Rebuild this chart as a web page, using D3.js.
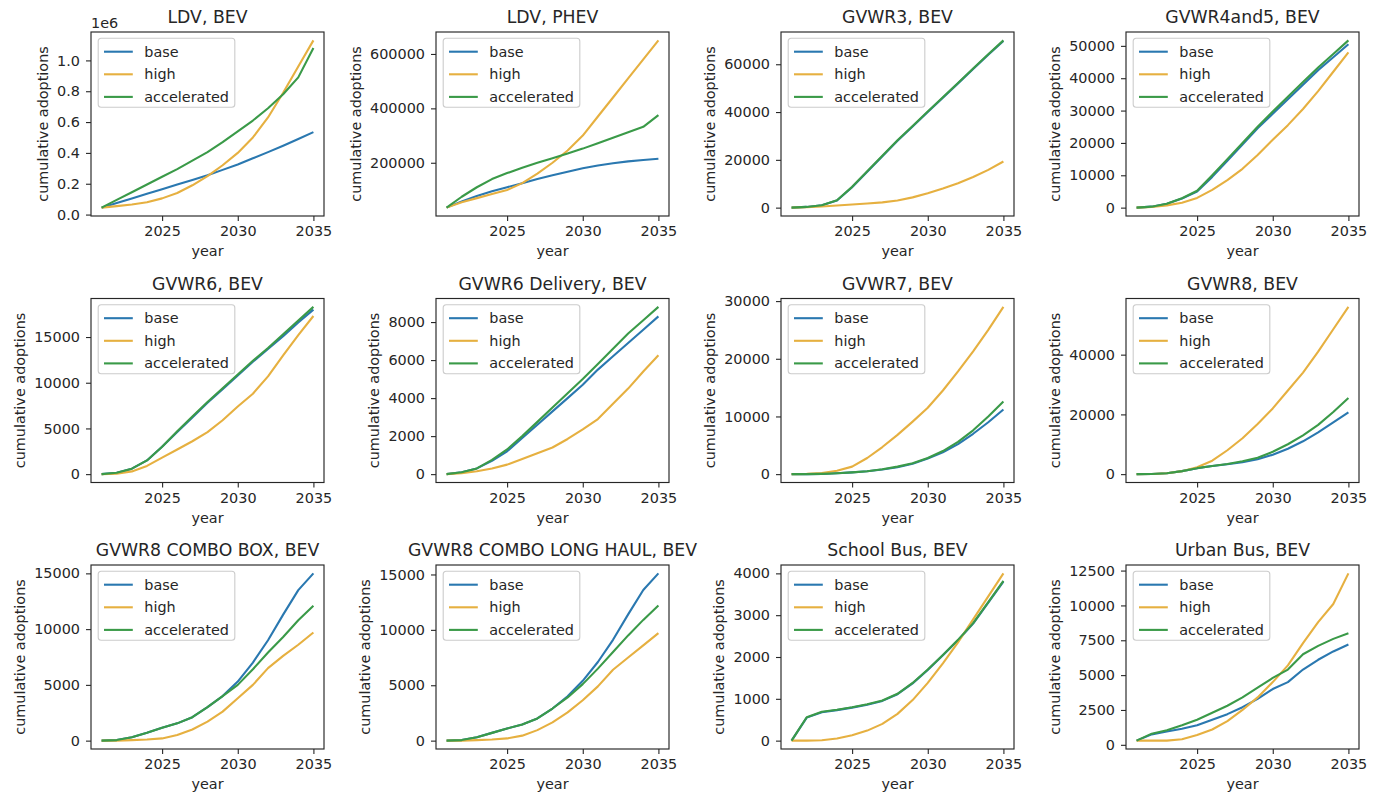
<!DOCTYPE html>
<html>
<head>
<meta charset="utf-8">
<script src="https://cdn.jsdelivr.net/npm/d3@7"></script>
<style>
  html, body { margin: 0; padding: 0; background: #fff; }
  svg { display: block; font-family: "DejaVu Sans", sans-serif; }
</style>
</head>
<body>
<svg id="chart" width="1382" height="798"></svg>
<script>
// Cumulative adoptions per vehicle class and scenario, 2021–2035
const years = d3.range(2021, 2036);
const seriesNames = ["base", "high", "accelerated"];
const xTickValues = [2025, 2030, 2035];

const panelTitles = [
  "LDV, BEV", "LDV, PHEV", "GVWR3, BEV", "GVWR4and5, BEV",
  "GVWR6, BEV", "GVWR6 Delivery, BEV", "GVWR7, BEV", "GVWR8, BEV",
  "GVWR8 COMBO BOX, BEV", "GVWR8 COMBO LONG HAUL, BEV", "School Bus, BEV", "Urban Bus, BEV"
];

// y tick spacing of each panel
const yTickSteps = [200000, 200000, 20000, 10000, 5000, 2000, 10000, 20000, 5000, 5000, 1000, 2500];

const baseValues = [
  [45000, 75000, 105000, 135000, 165000, 195000, 225000, 255000, 290000, 325000, 365000, 405000, 447000, 490000, 535000],
  [35000, 58000, 78000, 95000, 110000, 125000, 140000, 154000, 167000, 180000, 190000, 198000, 205000, 210000, 215000],
  [0, 300, 1000, 3000, 8500, 15000, 21500, 28000, 34000, 40000, 46000, 52000, 58000, 64000, 69700],
  [0, 300, 1200, 2800, 5000, 9500, 14500, 19500, 24500, 29000, 33500, 38000, 42500, 46500, 50500],
  [0, 150, 600, 1500, 3000, 4600, 6200, 7800, 9300, 10800, 12300, 13700, 15100, 16600, 18000],
  [0, 100, 300, 700, 1200, 1900, 2600, 3300, 4000, 4700, 5500, 6200, 6900, 7600, 8300],
  [0, 0, 50, 150, 300, 500, 800, 1200, 1800, 2700, 3800, 5200, 7000, 9000, 11200],
  [0, 50, 300, 1000, 2000, 2700, 3300, 4000, 5000, 6500, 8500, 11000, 14000, 17300, 20700],
  [0, 50, 300, 700, 1150, 1550, 2100, 3000, 4000, 5300, 7000, 9000, 11300, 13500, 15000],
  [0, 50, 300, 700, 1100, 1450, 2000, 2900, 4000, 5400, 7100, 9100, 11400, 13600, 15100],
  [0, 550, 680, 730, 790, 860, 950, 1110, 1370, 1690, 2040, 2400, 2800, 3300, 3800],
  [300, 750, 950, 1150, 1400, 1800, 2200, 2700, 3300, 4000, 4500, 5400, 6100, 6700, 7200]
];

const highValues = [
  [45000, 55000, 65000, 80000, 105000, 140000, 190000, 250000, 320000, 400000, 500000, 630000, 790000, 960000, 1130000],
  [35000, 55000, 70000, 85000, 100000, 125000, 160000, 200000, 245000, 300000, 370000, 440000, 510000, 580000, 650000],
  [0, 200, 500, 900, 1300, 1700, 2200, 3000, 4300, 6000, 8000, 10200, 12800, 15800, 19300],
  [0, 200, 700, 1500, 3000, 5500, 8500, 12000, 16300, 21000, 25500, 30500, 36000, 42000, 48000],
  [0, 50, 300, 900, 1800, 2700, 3600, 4600, 5900, 7400, 8800, 10700, 13000, 15200, 17300],
  [0, 50, 150, 300, 500, 800, 1100, 1400, 1850, 2350, 2900, 3700, 4500, 5400, 6250],
  [0, 50, 200, 600, 1300, 2800, 4700, 6800, 9100, 11500, 14500, 17800, 21300, 25000, 29000],
  [0, 50, 300, 1000, 2300, 4500, 8000, 12000, 16800, 22000, 28000, 34000, 41000, 48500, 56000],
  [0, 0, 50, 100, 200, 500, 1000, 1700, 2600, 3800, 5000, 6500, 7600, 8600, 9700],
  [0, 0, 50, 100, 200, 450, 950, 1650, 2550, 3650, 4900, 6400, 7500, 8600, 9700],
  [0, 0, 10, 50, 130, 240, 400, 640, 970, 1380, 1850, 2350, 2900, 3450, 4000],
  [300, 300, 300, 400, 700, 1100, 1700, 2500, 3400, 4500, 5700, 7300, 8800, 10100, 12300]
];

const acceleratedValues = [
  [45000, 95000, 145000, 195000, 245000, 295000, 350000, 405000, 470000, 540000, 610000, 690000, 780000, 890000, 1080000],
  [35000, 75000, 110000, 140000, 162000, 182000, 200000, 217000, 234000, 252000, 272000, 292000, 312000, 332000, 375000],
  [0, 300, 1000, 3100, 8700, 15200, 21700, 28200, 34200, 40200, 46200, 52200, 58200, 64200, 70000],
  [0, 300, 1200, 2900, 5200, 10000, 15000, 20000, 25000, 29700, 34300, 38800, 43300, 47500, 51700],
  [0, 150, 600, 1500, 3000, 4700, 6300, 7900, 9400, 10900, 12400, 13800, 15300, 16800, 18300],
  [0, 100, 300, 750, 1300, 2000, 2750, 3500, 4250, 5000, 5800, 6600, 7400, 8100, 8800],
  [0, 0, 50, 150, 300, 500, 850, 1300, 1900, 2800, 4000, 5600, 7600, 10000, 12600],
  [0, 50, 300, 1000, 2000, 2700, 3400, 4300, 5500, 7500, 10000, 13000, 16500, 20800, 25500],
  [0, 50, 300, 700, 1150, 1550, 2100, 3000, 4000, 5000, 6400, 7900, 9300, 10800, 12100],
  [0, 50, 300, 700, 1100, 1450, 2000, 2900, 3900, 5100, 6500, 8000, 9500, 10900, 12200],
  [0, 560, 690, 740, 800, 870, 960, 1120, 1380, 1700, 2050, 2410, 2810, 3310, 3820],
  [300, 800, 1050, 1400, 1800, 2300, 2800, 3400, 4100, 4800, 5400, 6500, 7100, 7600, 8000]
];

// ---- styling / layout ----
const seriesColors = { base: "#2a78b0", high: "#e6b040", accelerated: "#3a9a48" };
const textColor = "#262626";
const tickFont = 14.4, titleFont = 17.3;
const grid = { left: 91, top: 32, colStep: 345, rowStep: 266.5, w: 233, h: 184 };

const svg = d3.select("#chart");
const lineGen = (x, y) => d3.line().x((d, i) => x(years[i])).y(d => y(d));

panelTitles.forEach((title, p) => {
  const col = p % 4, row = Math.floor(p / 4);
  const ox = grid.left + col * grid.colStep;
  const oy = grid.top + row * grid.rowStep;
  const g = svg.append("g").attr("transform", `translate(${ox},${oy})`);

  const series = { base: baseValues[p], high: highValues[p], accelerated: acceleratedValues[p] };
  const all = [].concat(series.base, series.high, series.accelerated);
  const lo = d3.min(all), hi = d3.max(all), pad = (hi - lo) * 0.05;

  const x = d3.scaleLinear().domain([2020.3, 2035.7]).range([0, grid.w]);
  const y = d3.scaleLinear().domain([lo - pad, hi + pad]).range([grid.h, 0]);

  const step = yTickSteps[p];
  const yTicks = d3.range(Math.ceil((lo - pad) / step) * step, hi + pad + 1e-9, step);
  const millions = p === 0;
  const fmt = millions ? (v => (v / 1e6).toFixed(1)) : (v => String(Math.round(v)));

  // x axis
  const xAxis = g.append("g").attr("transform", `translate(0,${grid.h})`)
    .call(d3.axisBottom(x).tickValues(xTickValues).tickFormat(d3.format("d")).tickSize(5).tickPadding(5));
  // y axis
  const yAxis = g.append("g")
    .call(d3.axisLeft(y).tickValues(yTicks).tickFormat(fmt).tickSize(5).tickPadding(6));

  [xAxis, yAxis].forEach(a => {
    a.select(".domain").remove();
    a.selectAll(".tick line").attr("stroke", textColor).attr("stroke-width", 1.1);
    a.selectAll(".tick text").attr("fill", textColor)
      .style("font-family", "DejaVu Sans").style("font-size", tickFont + "px");
  });

  // lines
  seriesNames.forEach(name => {
    g.append("path")
      .datum(series[name])
      .attr("fill", "none")
      .attr("stroke", seriesColors[name])
      .attr("stroke-width", 2.1)
      .attr("stroke-linejoin", "round")
      .attr("d", lineGen(x, y));
  });

  // frame
  g.append("rect").attr("width", grid.w).attr("height", grid.h)
    .attr("fill", "none").attr("stroke", textColor).attr("stroke-width", 1.15);

  // title
  g.append("text").attr("x", grid.w / 2).attr("y", -9)
    .attr("text-anchor", "middle").attr("fill", textColor)
    .style("font-size", titleFont + "px").text(title);

  if (millions) {
    g.append("text").attr("x", 0).attr("y", -4).attr("fill", textColor)
      .style("font-size", tickFont + "px").text("1e6");
  }

  // axis labels
  g.append("text").attr("x", grid.w / 2).attr("y", grid.h + 40)
    .attr("text-anchor", "middle").attr("fill", textColor)
    .style("font-size", tickFont + "px").text("year");

  let maxW = 0;
  yAxis.selectAll(".tick text").each(function () { maxW = Math.max(maxW, this.getComputedTextLength()); });
  const labelX = -11 - maxW - 9.5;
  g.append("text")
    .attr("transform", `translate(${labelX},${grid.h / 2}) rotate(-90)`)
    .attr("text-anchor", "middle").attr("fill", textColor)
    .style("font-size", tickFont + "px").text("cumulative adoptions");

  // legend
  const lg = g.append("g").attr("transform", "translate(7.2,6.3)");
  const frame = lg.append("rect").attr("rx", 3).attr("ry", 3)
    .attr("fill", "#fff").attr("fill-opacity", 0.8)
    .attr("stroke", "#cccccc").attr("stroke-width", 1.1);
  let textW = 0;
  seriesNames.forEach((name, i) => {
    const cy = 13.4 + i * 22.6;
    lg.append("line").attr("x1", 5.8).attr("x2", 34.6).attr("y1", cy).attr("y2", cy)
      .attr("stroke", seriesColors[name]).attr("stroke-width", 2.1);
    const t = lg.append("text").attr("x", 46.1).attr("y", cy).attr("dy", "0.35em")
      .attr("fill", textColor).style("font-size", tickFont + "px").text(name);
    textW = Math.max(textW, t.node().getComputedTextLength());
  });
  frame.attr("width", 46.1 + textW + 5.8).attr("height", 69);
});
</script>
</body>
</html>
